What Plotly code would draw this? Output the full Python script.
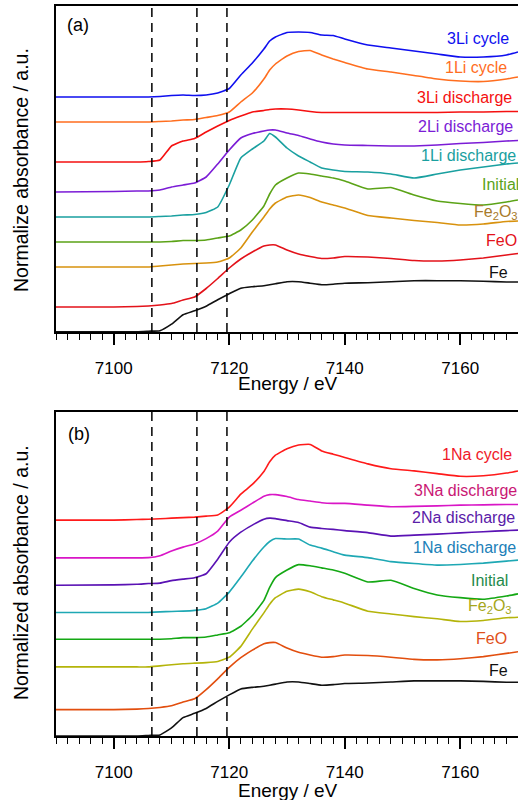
import plotly.graph_objects as go

# ---------------- data ----------------
energy = [7090, 7100, 7104, 7106, 7108, 7110, 7112, 7114, 7116, 7118, 7120, 7122, 7124, 7126, 7127,
          7128, 7130, 7132, 7134, 7136, 7138, 7140, 7144, 7148, 7152, 7156, 7160, 7164, 7168, 7170]

# reference spectra (used in both panels)
fe = [0, 0, 0, 0.5, 1, 7.5, 17, 21, 25.5, 32, 38, 43.5, 45, 46, 47,
      48, 50, 50, 48.5, 47, 47.5, 48.5, 49, 50, 51, 51, 51, 50.5, 49.7, 49.7]
feo = [0, 0, 0.5, 1, 2, 3.5, 7, 10, 18.5, 28.5, 39, 48, 55, 61, 62,
       62, 57, 53, 50.5, 48.5, 49, 50.5, 50, 48.5, 46.5, 46, 47, 49, 52, 53.5]
fe2o3 = [0, 0, 0, 0, 1, 2, 3, 3.5, 4, 5, 9, 19, 35, 50, 58,
         64, 70, 72, 69.5, 65, 62, 59, 51.5, 49, 46.5, 44.5, 42, 43, 45.5, 46]
initial = [0, 0, 0, 0, 0, 0.5, 1.5, 1.5, 2, 4, 6, 12, 22, 36, 48,
           57, 64, 69, 68, 66, 64, 61, 53, 54.5, 47, 41, 38.5, 37, 40, 42]

# Li series (panel a)
li1_dis = [0, 0, 0, 0, 0.5, 1, 2, 2.5, 4.5, 10, 32, 59, 68, 76, 83.5,
           80, 69, 61, 55, 49, 47, 45.5, 45, 43, 39, 43, 47, 50, 53, 54]
li2_dis = [0, 0.5, 1, 1, 2, 5, 7, 9, 15, 28, 42, 54, 58.5, 61, 62,
           62, 59, 56.5, 53, 50, 48, 47, 46.5, 46, 46, 47, 48.5, 49.5, 51, 51.5]
li3_dis = [0, 0, 0, 0.5, 2, 16, 21, 23.5, 30, 36, 41.5, 46, 50, 51.5, 52.5,
           53, 53, 52, 50.5, 49.5, 49.5, 49.5, 49.5, 49.5, 49.5, 49.5, 50, 50, 50.5, 50.5]
li1_cyc = [0, 0, 0, 0, 0.5, 1, 2, 2.5, 4.5, 6.5, 10, 20, 29, 43, 52,
           58, 66, 70.5, 71.5, 67, 63, 59.5, 53, 50, 46.5, 43, 41, 40.5, 43, 45]
li3_cyc = [0, 0, 0, 0, 0.5, 1.5, 2, 1.5, 2, 4, 8.5, 22, 34, 48, 56,
           60, 64.5, 65, 64.5, 62, 61.5, 58, 52, 49, 46, 43, 40, 40, 42, 45]

# Na series (panel b)
na1_dis = [0, 0, 0, 0, 0.5, 0.9, 1.2, 1.9, 3.5, 8.6, 18.8, 32.7, 47.5, 60.5, 65.6,
           68.3, 67.9, 67.9, 62.3, 59.5, 56.1, 53, 50.7, 47, 45.2, 43.8, 44.4, 45.6, 47.5, 48.4]
na2_dis = [0, 0.3, 0.8, 1.5, 1.9, 4.2, 5.6, 6.9, 10.6, 24, 39.8, 49, 55.6, 61, 62,
           61.6, 59.7, 57.9, 53.7, 52.5, 51.6, 50.5, 48.6, 45.4, 46.3, 47.2, 48.4, 49.5, 50.5, 50.9]
na3_dis = [0, 0, 0, 0.2, 2, 6.4, 9.9, 12.9, 17.8, 24.7, 37.7, 44, 50.6, 57, 58.5,
           58.5, 56.7, 53.9, 52.5, 51, 50.4, 50.4, 48.8, 47.3, 47.6, 48.1, 48.8, 49, 49.4, 49.4]
na1_cyc = [0, 0, 0.5, 0.8, 1.2, 1.8, 2.3, 2.8, 3.7, 4.8, 12, 24, 33, 45, 54,
           60, 66, 69.5, 70, 64, 61, 58, 52, 47.5, 45.5, 43, 40.5, 41, 43.5, 45.5]

top_names = ["Fe", "FeO", "Fe<sub>2</sub>O<sub>3</sub>", "Initial", "1Li discharge",
             "2Li discharge", "3Li discharge", "1Li cycle", "3Li cycle"]
top_series = [fe, feo, fe2o3, initial, li1_dis, li2_dis, li3_dis, li1_cyc, li3_cyc]
top_offsets = [0.3, 25, 65, 90, 115, 140, 170, 210, 235]

bot_names = ["Fe", "FeO", "Fe<sub>2</sub>O<sub>3</sub>", "Initial", "1Na discharge",
             "2Na discharge", "3Na discharge", "1Na cycle"]
bot_series = [fe, feo, fe2o3, initial, na1_dis, na2_dis, na3_dis, na1_cyc]
bot_offsets = [0, 24.4, 63.9, 89.5, 114.3, 139.5, 164.8, 199.7]

edge_markers = [7106.6, 7114.4, 7119.6]

# ---------------- styles ----------------
W, H = 518, 800
ML = 56
PW = W - ML

top_line_colors = ["#111111", "#E3121A", "#D8920E", "#5BA317", "#1AA0A0",
                   "#7B1CD6", "#F51010", "#FF6E1F", "#0F0FEF"]
top_text_colors = ["#111111", "#E3121A", "#A87A2A", "#5BA317", "#1AA0A0",
                   "#7B1CD6", "#F51010", "#FF6E1F", "#0F0FEF"]
# (right edge in px, y in data units)
top_label_pos = [(509.7, 59.3), (518.5, 91), (519.5, 119), (520.5, 147), (517.5, 176),
                 (515, 205), (514, 234), (509, 264), (511, 293)]

bot_line_colors = ["#111111", "#E24E0E", "#B4B40A", "#14A814", "#1EA8B4",
                   "#5A12B4", "#D916C6", "#FF1A1A"]
bot_text_colors = ["#111111", "#E0501A", "#A6A61A", "#1E8A4A", "#2080B8",
                   "#5A20A8", "#C91874", "#F01A2A"]
bot_label_pos = [(509.7, 60.8), (509, 90.2), (514, 119.4), (509.7, 144.2), (517.5, 174.4),
                 (517, 201.9), (519, 227.5), (514, 260.6)]

FONT = "Liberation Sans, Arial, sans-serif"
fig = go.Figure()

def add_panel(series, offsets, colors, xa, ya):
    for s, off, c in zip(series, offsets, colors):
        fig.add_trace(go.Scatter(
            x=energy, y=[v + off for v in s], mode="lines",
            line=dict(color=c, width=1.6, shape="spline", smoothing=0.4),
            xaxis=xa, yaxis=ya, showlegend=False, hoverinfo="skip"))

add_panel(top_series, top_offsets, top_line_colors, "x", "y")
add_panel(bot_series, bot_offsets, bot_line_colors, "x2", "y2")

def px(xp):
    return (xp - ML) / PW

annotations = []
for name, col, (lx, ly) in zip(top_names, top_text_colors, top_label_pos):
    annotations.append(dict(x=px(lx), y=ly, xref="paper", yref="y", text=name, showarrow=False,
                            xanchor="right", yanchor="middle",
                            font=dict(family=FONT, size=16, color=col)))
for name, col, (lx, ly) in zip(bot_names, bot_text_colors, bot_label_pos):
    annotations.append(dict(x=px(lx), y=ly, xref="paper", yref="y2", text=name, showarrow=False,
                            xanchor="right", yanchor="middle",
                            font=dict(family=FONT, size=16, color=col)))

# panel tags and axis titles
annotations += [
    dict(x=px(78), y=1 - 24.5 / H, xref="paper", yref="paper", text="(a)", showarrow=False,
         xanchor="center", yanchor="middle", font=dict(family=FONT, size=18, color="black")),
    dict(x=px(78.5), y=1 - 433.5 / H, xref="paper", yref="paper", text="(b)", showarrow=False,
         xanchor="center", yanchor="middle", font=dict(family=FONT, size=18, color="black")),
    dict(x=px(288), y=1 - 383 / H, xref="paper", yref="paper", text="Energy / eV", showarrow=False,
         xanchor="center", yanchor="middle", font=dict(family=FONT, size=19, color="black")),
    dict(x=px(288), y=1 - 790 / H, xref="paper", yref="paper", text="Energy / eV", showarrow=False,
         xanchor="center", yanchor="middle", font=dict(family=FONT, size=19, color="black")),
    dict(x=px(21), y=1 - 170 / H, xref="paper", yref="paper", text="Normalize absorbance / a.u.",
         showarrow=False, textangle=-90, xanchor="center", yanchor="middle",
         font=dict(family=FONT, size=19.5, color="black")),
    dict(x=px(21), y=1 - 573 / H, xref="paper", yref="paper", text="Normalized absorbance / a.u.",
         showarrow=False, textangle=-90, xanchor="center", yanchor="middle",
         font=dict(family=FONT, size=19.5, color="black")),
]

shapes = []
for e in edge_markers:
    for xa, ya in (("x", "y domain"), ("x2", "y2 domain")):
        shapes.append(dict(type="line", x0=e, x1=e, y0=0, y1=1, xref=xa, yref=ya,
                           line=dict(color="black", width=1.5, dash="9px,6px")))

xaxis_style = dict(range=[7090, 7170], showgrid=False, zeroline=False, showline=True,
                   linecolor="black", linewidth=2, mirror=True,
                   ticks="outside", ticklen=11, tickwidth=1.5, tickcolor="black",
                   dtick=20, tick0=7100, ticklabelstandoff=9,
                   minor=dict(dtick=2, ticks="outside", ticklen=6, tickwidth=1.3, tickcolor="black"),
                   tickfont=dict(family=FONT, size=17, color="black"), domain=[0, 1])
yaxis_style = dict(showgrid=False, zeroline=False, showline=True, linecolor="black", linewidth=2,
                   showticklabels=False, ticks="")

fig.update_layout(
    width=W, height=H, margin=dict(l=ML, r=0, t=0, b=0),
    plot_bgcolor="white", paper_bgcolor="white",
    xaxis=dict(**xaxis_style, anchor="y"),
    xaxis2=dict(**xaxis_style, anchor="y2"),
    yaxis=dict(**yaxis_style, range=[0, 326], domain=[1 - 332 / H, 1 - 6 / H], anchor="x"),
    yaxis2=dict(**yaxis_style, range=[0, 299.7], domain=[1 - 736 / H, 1 - 412 / H], anchor="x2"),
    annotations=annotations, shapes=shapes,
)

fig.write_html("out.html")
